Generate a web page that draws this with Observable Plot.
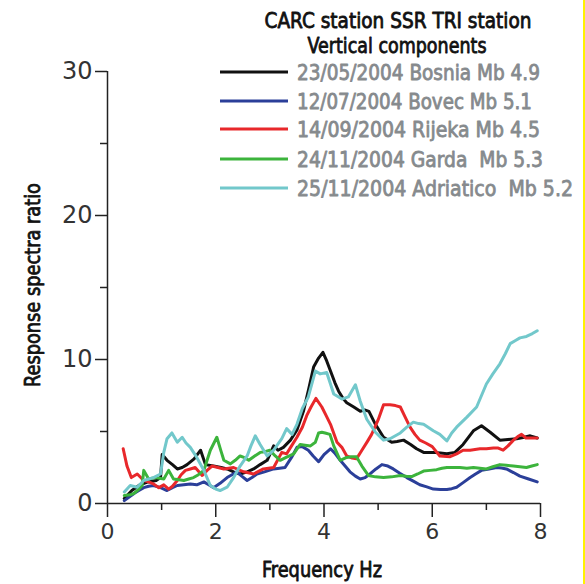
<!DOCTYPE html>
<html>
<head>
<meta charset="utf-8">
<script src="https://cdn.jsdelivr.net/npm/d3@7"></script>
<script src="https://cdn.jsdelivr.net/npm/@observablehq/plot@0.6"></script>
<style>
  html, body { margin: 0; padding: 0; background: #fff; overflow: hidden; }
  #wrap { position: relative; width: 585px; height: 584px; }
  #edge { position: absolute; left: 583px; top: 0; width: 2px; height: 584px; background: #fff200; }
</style>
</head>
<body>
<div id="wrap"><div id="chart"></div><div id="edge"></div></div>
<script>
// ---- Data ----
const titleLines = ["CARC station SSR TRI station", "Vertical components"];
const seriesNames = [
  "23/05/2004 Bosnia Mb 4.9",
  "12/07/2004 Bovec Mb 5.1",
  "14/09/2004 Rijeka Mb 4.5",
  "24/11/2004 Garda  Mb 5.3",
  "25/11/2004 Adriatico  Mb 5.2"
];
const seriesColors = ["#111111", "#2b3f99", "#e8282b", "#3cb43c", "#72c8cb"];
const xTicksMajor = [0, 2, 4, 6, 8];
const xTicksMinor = [1, 3, 5, 7];
const yTicksMajor = [0, 10, 20, 30];
const yTicksMinor = [5, 15, 25];

const freqBosnia  = [0.31,0.45,0.6,0.75,0.9,0.98,1.01,1.1,1.2,1.29,1.38,1.47,1.6,1.72,1.81,1.96,2.1,2.21,2.33,2.45,2.58,2.7,2.82,2.95,3.07,3.15,3.25,3.38,3.5,3.62,3.72,3.81,3.9,3.98,4.05,4.12,4.2,4.27,4.35,4.42,4.55,4.67,4.75,4.83,4.95,5.1,5.25,5.35,5.47,5.6,5.71,5.84,6.02,6.15,6.27,6.42,6.57,6.76,6.91,7.07,7.25,7.4,7.56,7.7,7.81,7.94];
const ratioBosnia = [0.35,0.9,1.3,1.5,1.6,1.8,3.4,3.0,2.7,2.4,2.5,2.7,3.1,3.7,2.7,2.6,2.5,2.4,2.2,2.05,2.2,2.4,2.7,3.0,4.0,3.7,3.9,4.4,5.1,6.4,8.0,9.5,10.1,10.5,9.9,9.2,8.4,7.8,7.3,7.0,6.7,6.4,6.5,6.4,5.5,4.6,4.25,4.3,4.4,4.1,3.8,3.55,3.55,3.5,3.45,3.55,4.1,5.05,5.4,4.95,4.4,4.45,4.5,4.6,4.7,4.55];

const freqBovec  = [0.31,0.4,0.49,0.58,0.67,0.76,0.85,0.98,1.1,1.2,1.29,1.41,1.53,1.65,1.78,1.87,1.96,2.08,2.21,2.3,2.39,2.48,2.58,2.67,2.76,2.9,3.07,3.18,3.28,3.4,3.5,3.6,3.71,3.8,3.9,4.0,4.12,4.2,4.3,4.39,4.48,4.58,4.67,4.76,4.85,4.96,5.07,5.18,5.28,5.4,5.53,5.65,5.77,5.9,6.02,6.15,6.27,6.36,6.45,6.57,6.7,6.8,6.91,7.05,7.19,7.28,7.37,7.5,7.62,7.78,7.94];
const ratioBovec = [0.2,0.45,0.7,0.9,1.1,1.2,1.25,1.1,0.9,1.1,1.25,1.3,1.36,1.3,1.5,1.3,1.1,1.4,1.8,2.0,2.2,1.9,1.6,1.8,2.05,2.2,2.4,2.45,2.5,3.2,3.9,3.95,3.7,3.3,2.9,3.4,3.8,3.5,3.0,2.6,2.2,1.9,1.7,1.8,2.05,2.4,2.7,2.6,2.4,2.1,1.8,1.55,1.3,1.15,1.0,0.98,0.97,1.03,1.13,1.45,1.8,2.05,2.3,2.4,2.5,2.47,2.4,2.15,1.9,1.7,1.5];

const freqRijeka  = [0.29,0.36,0.44,0.55,0.67,0.76,0.85,0.95,1.04,1.13,1.2,1.29,1.36,1.44,1.53,1.62,1.75,1.84,1.93,2.04,2.15,2.24,2.33,2.45,2.52,2.7,2.88,3.07,3.22,3.31,3.4,3.5,3.6,3.68,3.76,3.85,3.96,4.04,4.12,4.24,4.33,4.42,4.52,4.6,4.7,4.8,4.88,5.0,5.1,5.22,5.32,5.41,5.5,5.59,5.68,5.77,5.88,6.0,6.14,6.33,6.45,6.57,6.7,6.88,7.0,7.13,7.22,7.31,7.4,7.5,7.58,7.65,7.73,7.81,7.94];
const ratioRijeka = [3.8,2.6,1.8,2.05,1.6,1.5,1.36,1.1,1.3,1.0,1.2,1.6,2.0,2.3,2.4,2.5,1.95,2.3,2.6,2.5,2.4,2.45,2.5,2.3,2.2,2.05,2.4,2.5,3.55,3.45,4.0,4.6,5.3,6.1,6.7,7.3,6.7,6.1,5.5,4.25,3.9,3.3,3.15,3.1,3.7,4.3,4.8,5.8,6.85,6.85,6.8,6.7,6.0,5.3,4.8,4.4,4.2,3.95,3.3,3.25,3.45,3.7,3.7,3.8,3.8,3.85,3.85,3.7,4.0,4.4,4.65,4.8,4.55,4.55,4.55];

const freqGarda  = [0.31,0.42,0.49,0.58,0.64,0.67,0.76,0.89,1.04,1.13,1.22,1.32,1.41,1.5,1.59,1.68,1.78,1.84,1.9,2.02,2.1,2.15,2.27,2.36,2.45,2.52,2.61,2.72,2.82,2.91,3.0,3.1,3.19,3.3,3.44,3.56,3.65,3.75,3.84,3.9,3.96,4.02,4.11,4.18,4.3,4.42,4.5,4.6,4.7,4.82,4.95,5.1,5.25,5.41,5.52,5.62,5.73,5.84,5.96,6.08,6.18,6.27,6.4,6.51,6.64,6.76,6.88,7.0,7.12,7.25,7.37,7.5,7.62,7.74,7.84,7.94];
const ratioGarda = [0.55,0.6,0.7,1.0,1.25,2.3,1.7,1.8,1.7,2.3,1.7,1.65,1.6,1.7,1.8,2.0,2.3,3.0,3.7,4.6,3.6,3.0,2.75,3.0,3.3,3.2,3.0,3.3,3.55,3.6,3.7,3.3,3.0,3.2,3.45,4.1,4.05,4.0,4.25,4.9,4.95,4.9,4.8,4.0,3.0,3.2,3.25,3.25,2.6,1.95,1.85,1.8,1.85,1.95,1.9,1.87,2.05,2.25,2.3,2.35,2.45,2.5,2.5,2.5,2.45,2.5,2.45,2.4,2.55,2.7,2.65,2.6,2.55,2.5,2.6,2.7];

const freqAdriatico  = [0.31,0.42,0.55,0.67,0.76,0.85,0.98,1.04,1.1,1.19,1.29,1.38,1.45,1.53,1.65,1.78,1.9,2.0,2.08,2.21,2.33,2.45,2.58,2.65,2.73,2.82,2.95,3.07,3.22,3.31,3.41,3.5,3.6,3.71,3.84,3.93,4.05,4.18,4.33,4.45,4.58,4.67,4.79,4.95,5.1,5.22,5.41,5.53,5.65,5.75,5.84,6.02,6.14,6.27,6.36,6.45,6.64,6.82,7.0,7.12,7.25,7.35,7.44,7.53,7.62,7.74,7.85,7.94];
const ratioAdriatico = [0.8,1.25,1.13,1.6,1.7,1.8,2.05,3.55,4.5,4.9,4.25,4.6,4.2,3.9,3.2,2.3,1.25,1.0,0.9,1.13,1.8,2.6,3.3,4.0,4.7,4.1,3.3,3.7,4.5,5.2,4.8,5.5,6.6,7.4,9.2,9.0,9.1,7.6,7.25,7.4,8.25,7.1,5.85,4.95,4.4,4.5,4.9,5.3,5.65,5.55,5.5,5.05,4.8,4.35,4.9,5.3,6.0,6.7,8.3,9.0,9.7,10.4,11.1,11.3,11.5,11.6,11.8,12.0];

// ---- Build table ----
const seriesFreqs = [freqBosnia, freqBovec, freqRijeka, freqGarda, freqAdriatico];
const seriesRatios = [ratioBosnia, ratioBovec, ratioRijeka, ratioGarda, ratioAdriatico];
const rows = seriesNames.flatMap((name, i) =>
  seriesFreqs[i].map((f, j) => ({series: name, f, v: seriesRatios[i][j]}))
);

const W = 585, H = 584;
const axisColor = "#222";
const chart = Plot.plot({
  width: W,
  height: H,
  marginLeft: 107,
  marginRight: 45,
  marginTop: 71,
  marginBottom: 81,
  style: {background: "#fff", fontFamily: "'DejaVu Sans', Verdana, sans-serif", color: axisColor},
  x: {domain: [0, 8]},
  y: {domain: [0, 30]},
  color: {domain: seriesNames, range: seriesColors},
  marks: [
    Plot.axisY({ticks: yTicksMajor, tickSize: 12, tickPadding: 3, fontSize: 24, label: null, stroke: axisColor, strokeWidth: 1.5, fill: "#333"}),
    Plot.axisY({ticks: yTicksMinor, tickSize: 7, tickFormat: () => "", label: null, stroke: axisColor, strokeWidth: 1.5}),
    Plot.axisX({ticks: xTicksMajor, tickSize: 14, tickPadding: 6, fontSize: 22, label: null, stroke: axisColor, strokeWidth: 1.5, fill: "#333"}),
    Plot.axisX({ticks: xTicksMinor, tickSize: 7, tickFormat: () => "", label: null, stroke: axisColor, strokeWidth: 1.5}),
    Plot.ruleX([0], {stroke: axisColor, strokeWidth: 1.5}),
    Plot.ruleY([0], {stroke: axisColor, strokeWidth: 1.5}),
    Plot.line(rows, {x: "f", y: "v", z: "series", stroke: "series", strokeWidth: 3, strokeLinejoin: "round"})
  ]
});
document.getElementById("chart").appendChild(chart);

// ---- Titles, axis labels and legend ----
const svg = d3.select(chart);
const labelFont = "'DejaVu Sans Condensed', 'DejaVu Sans', sans-serif";
function addText(txt, x, y, opts) {
  const fill = opts.fill || "#111";
  const t = svg.append("text")
    .attr("x", x).attr("y", y)
    .attr("text-anchor", opts.anchor || "middle")
    .attr("font-family", labelFont)
    .attr("font-size", opts.size)
    .attr("fill", fill)
    .attr("stroke", fill)
    .attr("stroke-width", 0.8)
    .attr("stroke-linejoin", "round")
    .text(txt);
  if (opts.len) t.attr("textLength", opts.len).attr("lengthAdjust", "spacingAndGlyphs");
  if (opts.rotate) t.attr("transform", `rotate(${opts.rotate},${x},${y})`);
  return t;
}
addText(titleLines[0], 398, 28, {size: 22, len: 267});
addText(titleLines[1], 397, 53, {size: 22, len: 179});
addText("Frequency Hz", 322, 577, {size: 22, len: 120});
addText("Response spectra ratio", 40, 285, {size: 22, len: 204, rotate: -90});

const legendY = [72, 101, 129, 159, 188];
const legendLen = [243, 235, 243, 246, 276];
seriesNames.forEach((name, i) => {
  svg.append("line")
    .attr("x1", 220).attr("x2", 288)
    .attr("y1", legendY[i]).attr("y2", legendY[i])
    .attr("stroke", seriesColors[i]).attr("stroke-width", 3);
  addText(name, 297, legendY[i] + 8, {size: 22, anchor: "start", fill: "#868a8d", len: legendLen[i]});
});
</script>
</body>
</html>
